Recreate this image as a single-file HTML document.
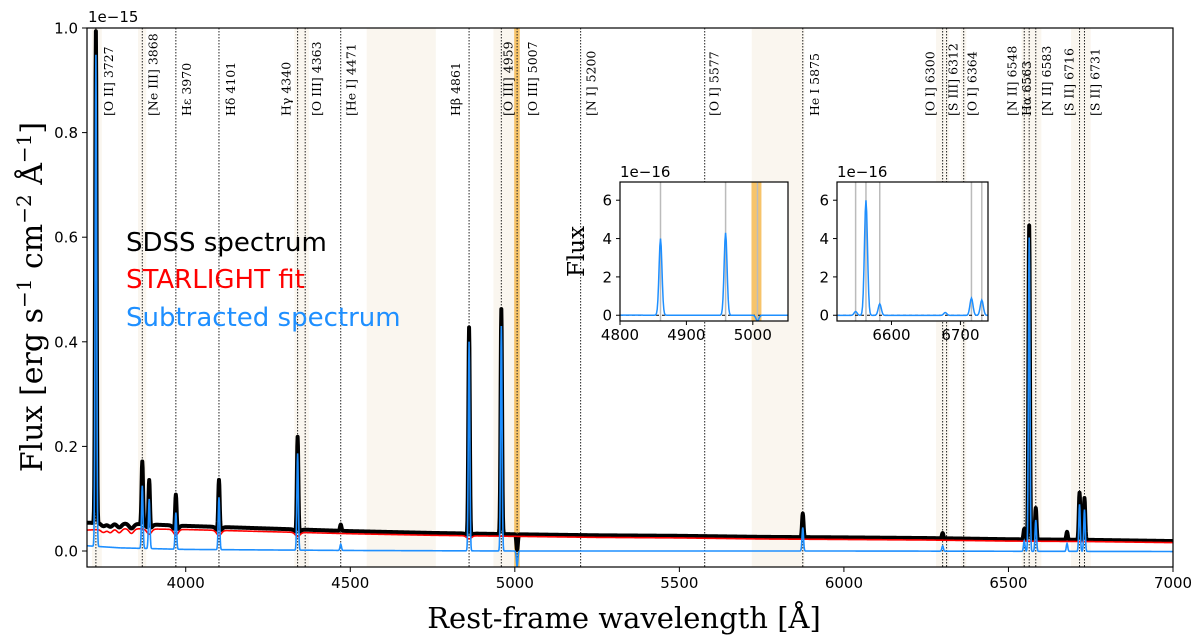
<!DOCTYPE html>
<html><head><meta charset="utf-8">
<style>
html,body{margin:0;padding:0;background:#fff;}
svg{display:block;font-family:"DejaVu Sans","Liberation Sans",sans-serif;}
.serif{font-family:"DejaVu Serif","Liberation Serif",serif;}
</style></head>
<body>
<svg id="chart" width="1200" height="644" viewBox="0 0 1200 644" xmlns="http://www.w3.org/2000/svg"></svg>
<script>
// ---------- data (flux units of 1e-15 erg/s/cm2/A) ----------
const lineNames = ["[O II] 3727","[Ne III] 3868","H\u03B5 3970","H\u03B4 4101","H\u03B3 4340","[O III] 4363","[He I] 4471","H\u03B2 4861","[O III] 4959","[O III] 5007","[N I] 5200","[O I] 5577","He I 5875","[O I] 6300","[S III] 6312","[O I] 6364","[N II] 6548","H\u03B1 6563","[N II] 6583","[S II] 6716","[S II] 6731"];
const lineWaves = [3727,3868,3970,4101,4340,4363,4471,4861,4959,5007,5200,5577,5875,6300,6312,6364,6548,6563,6583,6716,6731];
// emission peaks in residual (subtracted) spectrum
const emisWaves = [3727,3868,3889,3970,4101,4340,4471,4861,4959,5007,5875,6300,6548,6563,6583,6678,6716,6731];
const emisPeaks = [0.94,0.12,0.095,0.07,0.10,0.185,0.012,0.40,0.43,-0.03,0.045,0.01,0.02,0.60,0.06,0.015,0.09,0.08];
// stellar continuum (STARLIGHT fit) anchor points
const contWaves = [3700,3800,4000,4250,4500,4750,5000,5250,5500,5750,6000,6250,6500,6750,7000];
const contVals  = [0.040,0.043,0.041,0.037,0.033,0.030,0.028,0.026,0.025,0.023,0.022,0.021,0.019,0.018,0.016];
// Balmer absorption depths in the fit
const absWaves = [3750,3771,3798,3835,3889,3970,4101,4340,4861];
const absDepth = [0.006,0.007,0.008,0.009,0.010,0.011,0.010,0.008,0.006];
// residual baseline offsets
const residWaves = [3700,3800,4000,4500,5000,6000,7000];
const residVals  = [0.010,0.006,0.003,0.001,0.0,0.0,-0.001];
// masked / highlighted windows
const maskStart = [3715,3855,4330,4550,4935,5720,6280,6355,6540,6690];
const maskEnd   = [3745,3880,4375,4760,4998,5880,6320,6372,6600,6750];
const orangeStart = [4998];
const orangeEnd = [5015];
// axis ticks
const xTicks = [4000,4500,5000,5500,6000,6500,7000];
const yTicks = [0.0,0.2,0.4,0.6,0.8,1.0];
const in1Ticks = [4800,4900,5000];
const in2Ticks = [6600,6700];
const inYTicks = [0,2,4,6];
const in1Lines = [4861,4959,5007];
const in2Lines = [6548,6563,6583,6716,6731];

// ---------- helpers ----------
const NS="http://www.w3.org/2000/svg";
const svg=document.getElementById('chart');
function mk(tag,attrs,parent){const e=document.createElementNS(NS,tag);for(const k in attrs)e.setAttribute(k,attrs[k]);(parent||svg).appendChild(e);return e;}
function interp(xs,ys,x){if(x<=xs[0])return ys[0];for(let i=1;i<xs.length;i++){if(x<=xs[i]){const t=(x-xs[i-1])/(xs[i]-xs[i-1]);return ys[i-1]+t*(ys[i]-ys[i-1]);}}return ys[ys.length-1];}
const SIG=2.2;
function fitAt(w){let v=interp(contWaves,contVals,w);for(let i=0;i<absWaves.length;i++){const d=(w-absWaves[i])/7;v-=absDepth[i]*Math.exp(-0.5*d*d);}return v;}
function residAt(w){let v=interp(residWaves,residVals,w);for(let i=0;i<emisWaves.length;i++){const d=(w-emisWaves[i])/SIG;v+=emisPeaks[i]*Math.exp(-0.5*d*d);}return v;}
const waves=[];for(let w=3700;w<=7000;w+=1)waves.push(w);

// ---------- main axes ----------
const X0=87,X1=1173,Y0=28,Y1=567;
const xmin=3700,xmax=7000,ymin=-0.0306,ymax=1.0;
const xs=w=>X0+(w-xmin)/(xmax-xmin)*(X1-X0);
const ys=v=>Y1-(v-ymin)/(ymax-ymin)*(Y1-Y0);
// label right-edge pixel offset relative to its marker line (layout only)
const labelShift=[19,17,17,18,-5,18,17,-7,13,22,17,16,18,-6,13,15,-6,4,17,-4,17];

const clip=mk('clipPath',{id:'mainclip'});mk('rect',{x:X0,y:Y0,width:X1-X0,height:Y1-Y0},clip);

maskStart.forEach((s,i)=>{const r=mk('rect',{x:xs(s),y:Y0,width:xs(maskEnd[i])-xs(s),height:Y1-Y0,fill:'#faf6ef'});

});
orangeStart.forEach((s,i)=>{const r=mk('rect',{x:xs(s),y:Y0,width:xs(orangeEnd[i])-xs(s),height:Y1-Y0,fill:'#f7c46a'});

});

lineWaves.forEach((w,i)=>{const x=xs(w);
const l=mk('line',{x1:x,x2:x,y1:Y0,y2:Y1,stroke:'#222','stroke-width':1,'stroke-dasharray':'1.5,1.5'});


const t=mk('text',{x:0,y:0,'font-size':12.5,'text-anchor':'start',class:'serif',fill:'#000',transform:`translate(${x+labelShift[i]-2},116) rotate(-90)`});
t.textContent=lineNames[i];

});

function pathFrom(fn,xf,yf,lo,hi){let d='';waves.forEach(w=>{if(w<lo||w>hi)return;d+=(d?'L':'M')+xf(w).toFixed(2)+','+yf(fn(w)).toFixed(2);});return d;}
const g=mk('g',{'clip-path':'url(#mainclip)'});
const pb=mk('path',{d:pathFrom(w=>fitAt(w)+residAt(w)+0.004,xs,ys,3700,7000),fill:'none',stroke:'#000','stroke-width':4,'stroke-linejoin':'round'},g);


const pr=mk('path',{d:pathFrom(fitAt,xs,ys,3700,7000),fill:'none',stroke:'#ff0000','stroke-width':1.6},g);


const pbl=mk('path',{d:pathFrom(residAt,xs,ys,3700,7000),fill:'none',stroke:'#1e8fff','stroke-width':1.6},g);



const fr=mk('rect',{x:X0,y:Y0,width:X1-X0,height:Y1-Y0,fill:'none',stroke:'#000','stroke-width':1.2});


xTicks.forEach(v=>{const x=xs(v);mk('line',{x1:x,x2:x,y1:Y1,y2:Y1+5,stroke:'#000'});
const t=mk('text',{x:x,y:Y1+21,'font-size':15,'text-anchor':'middle'});t.textContent=v;

});
yTicks.forEach(v=>{const y=ys(v);mk('line',{x1:X0-5,x2:X0,y1:y,y2:y,stroke:'#000'});
const t=mk('text',{x:X0-9,y:y+5.5,'font-size':15,'text-anchor':'end'});t.textContent=v.toFixed(1);

});
const off=mk('text',{x:88,y:22,'font-size':15});off.textContent='1e\u221215';



const xl=mk('text',{x:624,y:628,'font-size':29,'text-anchor':'middle',class:'serif'});xl.textContent='Rest-frame wavelength [\u00C5]';


const yl=mk('text',{x:0,y:0,'font-size':30,'text-anchor':'middle',class:'serif',transform:'translate(42,297) rotate(-90)'});
yl.innerHTML='Flux [erg s<tspan dy="-11" font-size="20">\u22121</tspan><tspan dy="11"> cm</tspan><tspan dy="-11" font-size="20">\u22122</tspan><tspan dy="11"> \u00C5</tspan><tspan dy="-11" font-size="20">\u22121</tspan><tspan dy="11">]</tspan>';



[['SDSS spectrum','#000',251,'legend-sdss'],['STARLIGHT fit','#ff0000',288,'legend-starlight'],['Subtracted spectrum','#1e8fff',326,'legend-subtracted']].forEach(a=>{
const t=mk('text',{x:126,y:a[2],'font-size':26,fill:a[1]});t.textContent=a[0];

});

// ---------- insets ----------
function inset(id,L,R,wlo,whi,ticks,glines,withYLabel,orange){
const T=182,B=321,vmin=-0.3,vmax=6.95;
const ix=w=>L+(w-wlo)/(whi-wlo)*(R-L);
const iy=v=>B-(v-vmin)/(vmax-vmin)*(B-T);
const grp=mk('g',{});


mk('rect',{x:L,y:T,width:R-L,height:B-T,fill:'#fff'},grp);
const c=mk('clipPath',{id:id+'-clip'},grp);mk('rect',{x:L,y:T,width:R-L,height:B-T},c);
const gi=mk('g',{'clip-path':`url(#${id}-clip)`},grp);
orange.forEach(o=>mk('rect',{x:ix(o[0]),y:T,width:ix(o[1])-ix(o[0]),height:B-T,fill:'#f7c46a'},gi));
glines.forEach(w=>mk('line',{x1:ix(w),x2:ix(w),y1:T,y2:B,stroke:'#bbb','stroke-width':1.5},gi));
mk('line',{x1:L,x2:R,y1:iy(0),y2:iy(0),stroke:'#000','stroke-width':1,'stroke-dasharray':'3,3'},gi);
const p=mk('path',{d:pathFrom(w=>residAt(w)*10,ix,iy,wlo-5,whi+5),fill:'none',stroke:'#1e8fff','stroke-width':1.5},gi);


mk('rect',{x:L,y:T,width:R-L,height:B-T,fill:'none',stroke:'#000','stroke-width':1.2},grp);
ticks.forEach(v=>{const x=ix(v);mk('line',{x1:x,x2:x,y1:B,y2:B+4,stroke:'#000'},grp);
const t=mk('text',{x:x,y:B+19,'font-size':15,'text-anchor':'middle'},grp);t.textContent=v;

});
inYTicks.forEach(v=>{const y=iy(v);mk('line',{x1:L-4,x2:L,y1:y,y2:y,stroke:'#000'},grp);
const t=mk('text',{x:L-8,y:y+5.5,'font-size':15,'text-anchor':'end'},grp);t.textContent=v;

});
const o=mk('text',{x:L,y:T-5,'font-size':15},grp);o.textContent='1e\u221216';


if(withYLabel){const t=mk('text',{x:0,y:0,'font-size':23,'text-anchor':'middle',class:'serif',transform:`translate(${L-36},${(T+B)/2}) rotate(-90)`},grp);t.textContent='Flux';

}
}
inset('inset-oiii-hbeta',620,788,4800,5053,in1Ticks,in1Lines,true,[[4998,5013]]);
inset('inset-halpha-nii',837,988,6521,6740,in2Ticks,in2Lines,false,[]);
</script>
</body></html>
